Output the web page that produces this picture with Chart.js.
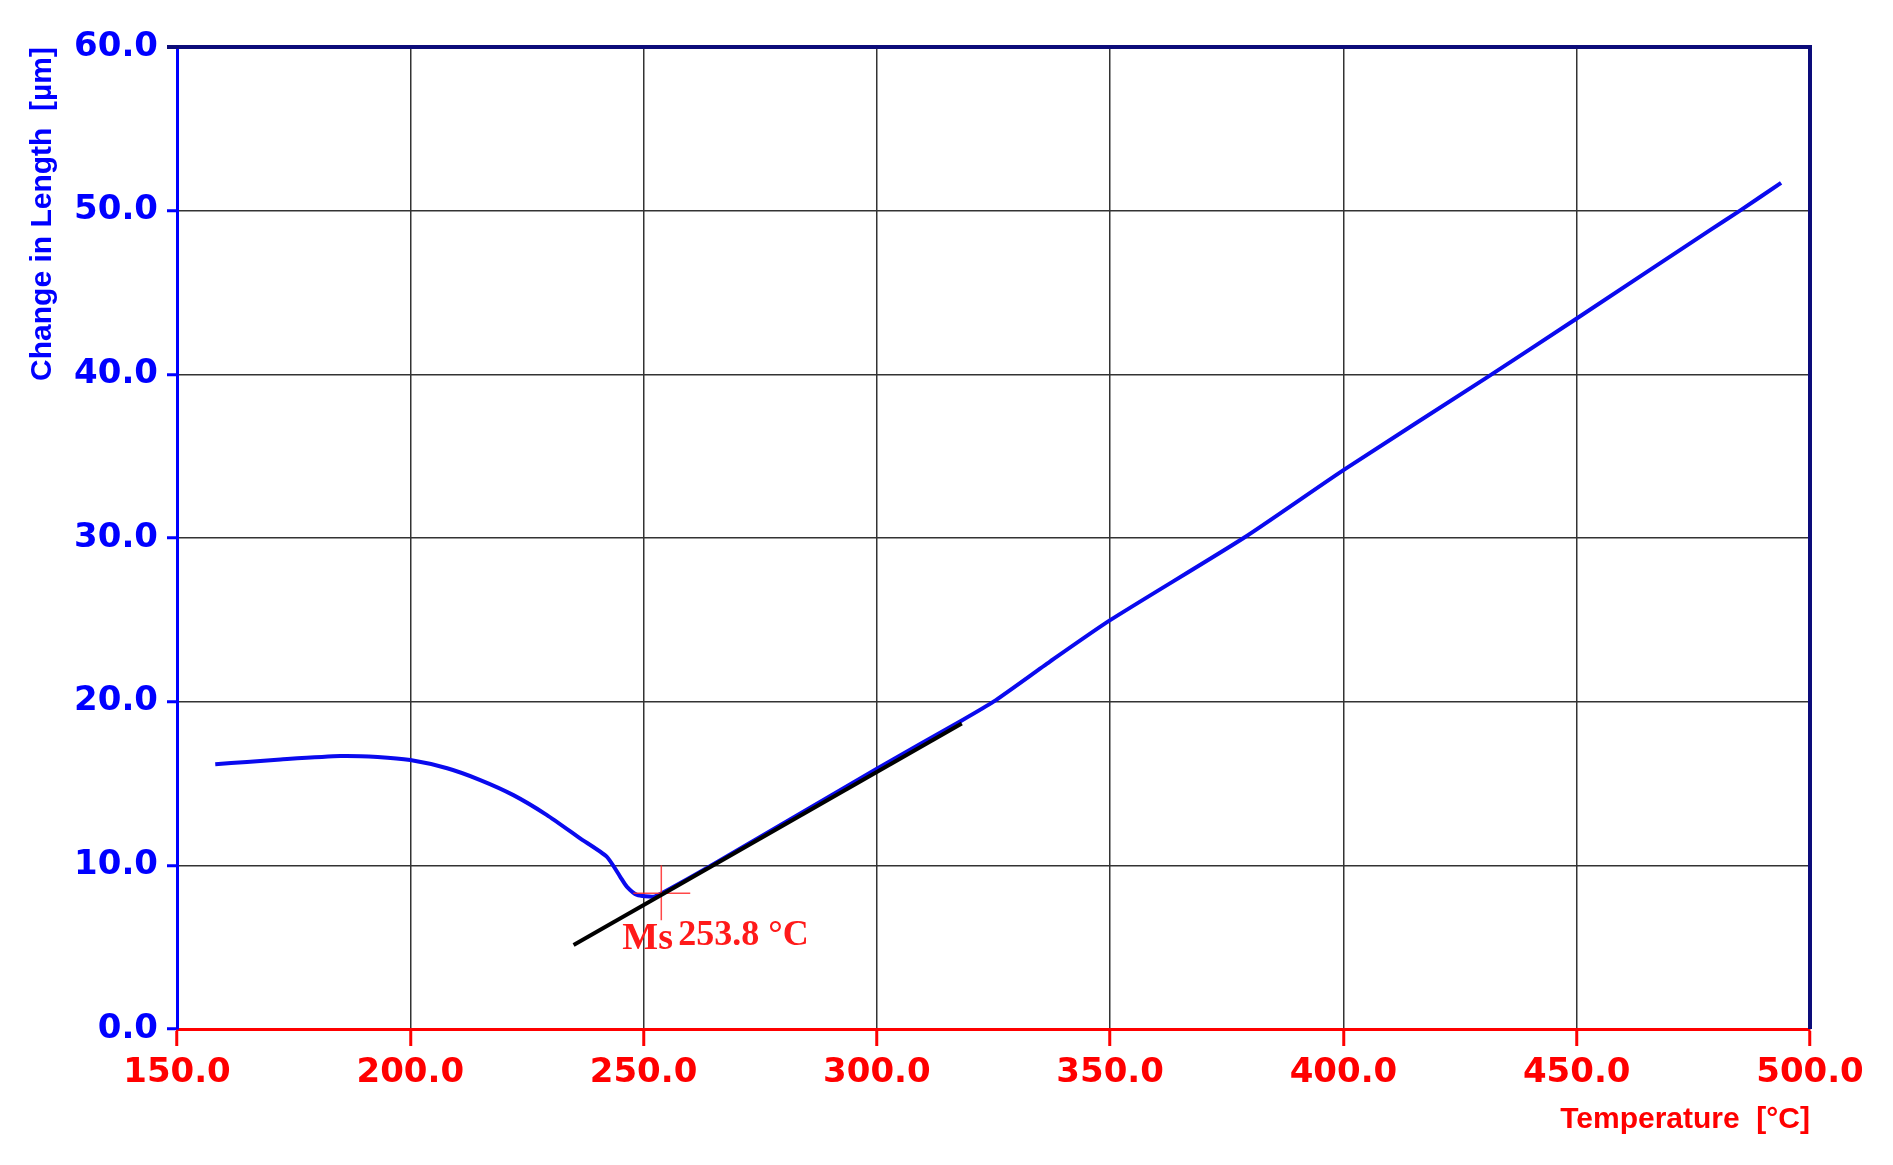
<!DOCTYPE html>
<html>
<head>
<meta charset="utf-8">
<title>Dilatometer curve</title>
<script src="https://cdn.jsdelivr.net/npm/chart.js@4.4.1/dist/chart.umd.min.js"></script>
<style>
    html, body { margin: 0; padding: 0; background: #ffffff; }
    #wrap { width: 1893px; height: 1165px; position: relative; }
</style>
</head>
<body>
<div id="wrap"><canvas id="dilChart"></canvas></div>
<script>
/* ---------------- DATA ---------------- */
const xTicks = [150, 200, 250, 300, 350, 400, 450, 500];
const yTicks = [0, 10, 20, 30, 40, 50, 60];

// measured curve (temperature °C, change in length µm)
const curveTemp = [158.2, 165.0, 172.2, 185.0, 193.0, 200.0, 207.9, 215.0, 222.1, 229.3,
    236.4, 242.1, 245.0, 246.4, 248.6, 252.1, 253.9, 264.6, 300.0, 318.2, 325.0, 337.1,
    350.0, 378.6, 400.0, 430.7, 450.0, 478.5, 485.0, 493.8];
const curveLength = [16.17, 16.32, 16.47, 16.68, 16.62, 16.43, 15.93, 15.21, 14.29, 13.07,
    11.65, 10.53, 9.30, 8.70, 8.19, 8.08, 8.29, 10.00, 15.90, 18.85, 20.00, 22.45,
    24.98, 30.00, 34.15, 39.80, 43.41, 48.80, 50.00, 51.70];

// tangent line used to read Ms
const tangentTemp = [235.0, 318.2];
const tangentLength = [5.13, 18.67];

// Ms marker cross
const msTemp = 253.8;
const msLength = 8.3;
const crossVTemp = [253.8, 253.8];
const crossVLength = [10.0, 6.65];
const crossHTemp = [247.8, 260.0];
const crossHLength = [8.3, 8.3];

const msLabel = "Ms";
const msValueLabel = "253.8 °C";

function toPoints(xs, ys) {
    return xs.map((x, i) => ({ x: x, y: ys[i] }));
}

/* ---------------- PLUGINS ---------------- */
// navy frame on top and right edge of plot area
const framePlugin = {
    id: "frame",
    afterDatasetsDraw(chart) {
        const { ctx, chartArea: a } = chart;
        ctx.save();
        ctx.strokeStyle = "#0c0c7a";
        ctx.lineWidth = 4;
        ctx.beginPath();
        ctx.moveTo(a.left - 10, a.top);
        ctx.lineTo(a.right, a.top);
        ctx.lineTo(a.right, a.bottom);
        ctx.stroke();
        ctx.restore();
    }
};

// "Ms 253.8 °C" annotation
const msTextPlugin = {
    id: "msText",
    afterDatasetsDraw(chart) {
        const { ctx, scales } = chart;
        const px = scales.x.getPixelForValue(msTemp);
        const py = scales.y.getPixelForValue(msLength);
        ctx.save();
        ctx.fillStyle = "#ff1a1a";
        ctx.textBaseline = "alphabetic";
        ctx.textAlign = "left";
        ctx.font = "bold 38px 'Liberation Serif'";
        ctx.fillText(msLabel, px - 39, py + 56);
        ctx.font = "bold 36px 'Liberation Serif'";
        ctx.fillText(msValueLabel, px + 17, py + 52);
        ctx.restore();
    }
};

/* ---------------- CHART ---------------- */
const ctx = document.getElementById("dilChart");

new Chart(ctx, {
    type: "line",
    data: {
        datasets: [
            {
                label: "tangent",
                data: toPoints(tangentTemp, tangentLength),
                borderColor: "#000000",
                borderWidth: 4,
                pointRadius: 0
            },
            {
                label: "ms-v",
                data: toPoints(crossVTemp, crossVLength),
                borderColor: "rgba(255,40,40,0.85)",
                borderWidth: 1.5,
                pointRadius: 0
            },
            {
                label: "ms-h",
                data: toPoints(crossHTemp, crossHLength),
                borderColor: "rgba(255,40,40,0.85)",
                borderWidth: 1.5,
                pointRadius: 0
            },
            {
                label: "dilatation",
                data: toPoints(curveTemp, curveLength),
                borderColor: "#0a0aee",
                borderWidth: 4,
                pointRadius: 0,
                tension: 0.2
            }
        ]
    },
    options: {
        responsive: true,
        maintainAspectRatio: false,
        animation: false,
        layout: { padding: { top: 47, right: 83, bottom: 0, left: 0 } },
        plugins: {
            legend: { display: false },
            tooltip: { enabled: false }
        },
        scales: {
            x: {
                type: "linear",
                min: 150,
                max: 500,
                afterBuildTicks: (scale) => { scale.ticks = xTicks.map(v => ({ value: v })); },
                afterFit: (scale) => { scale.height = 136; },
                ticks: {
                    color: "#ff0000",
                    font: { family: "'DejaVu Sans'", size: 34, weight: "bold" },
                    padding: 7,
                    maxRotation: 0,
                    callback: (v) => Number(v).toFixed(1)
                },
                grid: {
                    color: "#333333",
                    lineWidth: 1.5,
                    tickColor: "#ff0000",
                    tickWidth: 3,
                    tickLength: 17
                },
                border: { color: "#ff0000", width: 3 },
                title: {
                    display: true,
                    text: "Temperature  [°C]",
                    align: "end",
                    color: "#ff0000",
                    font: { family: "'Liberation Sans'", size: 30, weight: "bold" },
                    padding: { top: 0, bottom: 27 }
                }
            },
            y: {
                type: "linear",
                min: 0,
                max: 60,
                afterBuildTicks: (scale) => { scale.ticks = yTicks.map(v => ({ value: v })); },
                afterFit: (scale) => { scale.width = 177; },
                ticks: {
                    color: "#0000ff",
                    font: { family: "'DejaVu Sans'", size: 34, weight: "bold" },
                    padding: 9,
                    callback: (v) => Number(v).toFixed(1)
                },
                grid: {
                    color: "#333333",
                    lineWidth: 1.5,
                    tickColor: "#0000ff",
                    tickWidth: 3,
                    tickLength: 10
                },
                border: { color: "#0000ff", width: 3 },
                title: {
                    display: true,
                    text: "Change in Length  [µm]",
                    align: "end",
                    color: "#0000ff",
                    font: { family: "'Liberation Sans'", size: 30, weight: "bold" },
                    padding: { top: 25, bottom: 0 }
                }
            }
        }
    },
    plugins: [framePlugin, msTextPlugin]
});
</script>
</body>
</html>
